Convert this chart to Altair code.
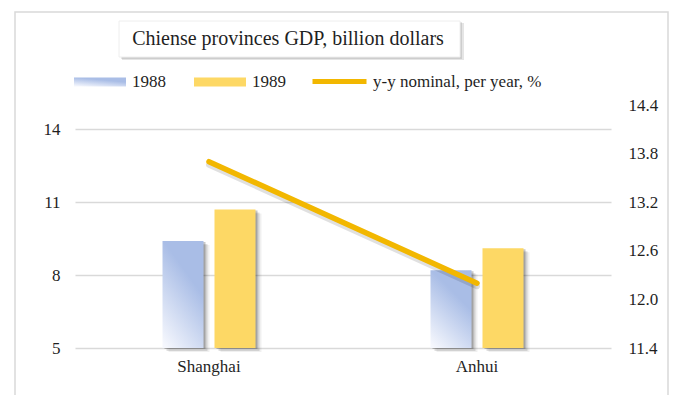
import altair as alt
import pandas as pd

provinces = ["Shanghai", "Anhui"]
years = ["1988", "1989"]
gdp_1988 = [9.4, 8.2]
gdp_1989 = [10.7, 9.1]
yy_growth = [13.7, 12.2]
left_ticks = [5, 8, 11, 14]
right_ticks = [11.4, 12.0, 12.6, 13.2, 13.8, 14.4]
title_text = "Chiense provinces GDP, billion dollars"
line_name = "y-y nominal, per year, %"

df88 = pd.DataFrame({"province": provinces, "year": years[0], "gdp": gdp_1988})
df89 = pd.DataFrame({"province": provinces, "year": years[1], "gdp": gdp_1989})
dfl = pd.DataFrame({"province": provinces, "series": line_name, "growth": yy_growth})
one = pd.DataFrame({"t": [title_text]})

FONT = "Liberation Serif, Times New Roman, DejaVu Serif, serif"
TXT = "#1f1f1f"
W, H = 536, 243

xenc = alt.X(
    "province:N", sort=provinces,
    scale=alt.Scale(paddingInner=0, paddingOuter=0),
    axis=alt.Axis(title=None, labelAngle=0, domain=False, ticks=False,
                  labelPadding=10, grid=False),
)
yleft = alt.Y(
    "gdp:Q", scale=alt.Scale(domain=[5, 15], nice=False, zero=False),
    axis=alt.Axis(orient="left", values=left_ticks, title=None, domain=False,
                  ticks=False, tickSize=0, labelPadding=15, grid=True,
                  gridColor="#d9d9d9", gridWidth=1.5),
)
yright = alt.Y(
    "growth:Q", scale=alt.Scale(domain=[11.4, 14.4], nice=False, zero=False),
    axis=alt.Axis(orient="right", values=right_ticks, format=".1f", title=None,
                  domain=False, ticks=False, tickSize=0, labelPadding=17,
                  grid=False),
)

BW = 41
OFF = 26
RECT = "M-1,-0.17H1V0.17H-1Z"

grad88 = alt.LinearGradient(
    gradient="linear",
    stops=[alt.GradientStop(offset=0, color="#F5F7FD"),
           alt.GradientStop(offset=1, color="#A9BDE6")],
    x1=0.1, y1=1, x2=0.5, y2=0.25,
)

def shadow(df, off):
    layers = []
    for dx, dy, op in [(2, 1, 0.22), (4, 3, 0.12), (6, 4, 0.06)]:
        layers.append(
            alt.Chart(df).mark_bar(color="#000000", opacity=op, width=BW,
                                   xOffset=off + dx, x2Offset=off + dx,
                                   yOffset=dy, y2Offset=dy)
            .encode(x=xenc, y=yleft, y2=alt.datum(5))
        )
    return layers

bar88 = alt.Chart(df88).mark_bar(color=grad88, width=BW, xOffset=-OFF, x2Offset=-OFF).encode(
    x=xenc, y=yleft, y2=alt.datum(5),
    opacity=alt.Opacity("year:N", scale=alt.Scale(domain=[years[0]], range=[1]),
                        legend=alt.Legend(orient="none", legendX=-1, legendY=-49,
                                          direction="horizontal", title=None,
                                          symbolType=RECT, symbolSize=2704,
                                          symbolStrokeWidth=0, labelOffset=6)),
)
bar89 = alt.Chart(df89).mark_bar(width=BW, xOffset=OFF, x2Offset=OFF).encode(
    x=xenc, y=yleft, y2=alt.datum(5),
    color=alt.Color("year:N", scale=alt.Scale(domain=[years[1]], range=["#FDD865"]),
                    legend=alt.Legend(orient="none", legendX=119, legendY=-49,
                                      direction="horizontal", title=None,
                                      symbolType=RECT, symbolSize=2704,
                                      symbolStrokeWidth=0, labelOffset=6)),
)

bars = alt.layer(*shadow(df88, -OFF), *shadow(df89, OFF), bar88, bar89)

line_shadow = alt.Chart(dfl).mark_line(color="#000000", opacity=0.12, strokeWidth=6,
                                       strokeCap="round", yOffset=3).encode(x=xenc, y=yright)
line = alt.Chart(dfl).mark_line(strokeWidth=5.5, strokeCap="round").encode(
    x=xenc, y=yright,
    stroke=alt.Stroke("series:N", scale=alt.Scale(range=["#F2B700"]),
                      legend=alt.Legend(orient="none", legendX=235, legendY=-53,
                                        title=None, symbolType="stroke",
                                        symbolSize=2916, symbolStrokeWidth=5,
                                        labelOffset=4, labelLimit=400)),
)
lines = alt.layer(line_shadow, line)

frame = alt.Chart(one).mark_rect(fillOpacity=0, stroke="#d9d9d9", strokeWidth=1.5).encode(
    x=alt.value(-60), x2=alt.value(593), y=alt.value(-93), y2=alt.value(320))
tsh1 = alt.Chart(one).mark_rect(color="#000000", opacity=0.10).encode(
    x=alt.value(47), x2=alt.value(389), y=alt.value(-82), y2=alt.value(-45))
tsh2 = alt.Chart(one).mark_rect(color="#000000", opacity=0.10).encode(
    x=alt.value(46), x2=alt.value(387), y=alt.value(-83), y2=alt.value(-46))
tbox = alt.Chart(one).mark_rect(fill="white", stroke="#eeeeee", strokeWidth=1).encode(
    x=alt.value(44), x2=alt.value(385), y=alt.value(-84), y2=alt.value(-48))
ttext = alt.Chart(one).mark_text(font=FONT, fontSize=20, align="center", baseline="middle",
                                 color=TXT).encode(
    x=alt.value(213), y=alt.value(-66), text="t:N")

chart = alt.layer(frame, tsh1, tsh2, tbox, ttext, bars, lines).resolve_scale(
    y="independent"
).properties(
    width=W, height=H,
    padding={"left": 67, "top": 97, "right": 58, "bottom": 47},
    autosize=alt.AutoSizeParams(type="none"),
).configure_axis(
    labelFont=FONT, labelFontSize=17, labelColor=TXT
).configure_legend(
    labelFont=FONT, labelFontSize=17, labelColor=TXT
).configure_text(font=FONT).configure_view(strokeWidth=0)

chart.save("out.html", embed_options={"renderer": "svg", "actions": False})
